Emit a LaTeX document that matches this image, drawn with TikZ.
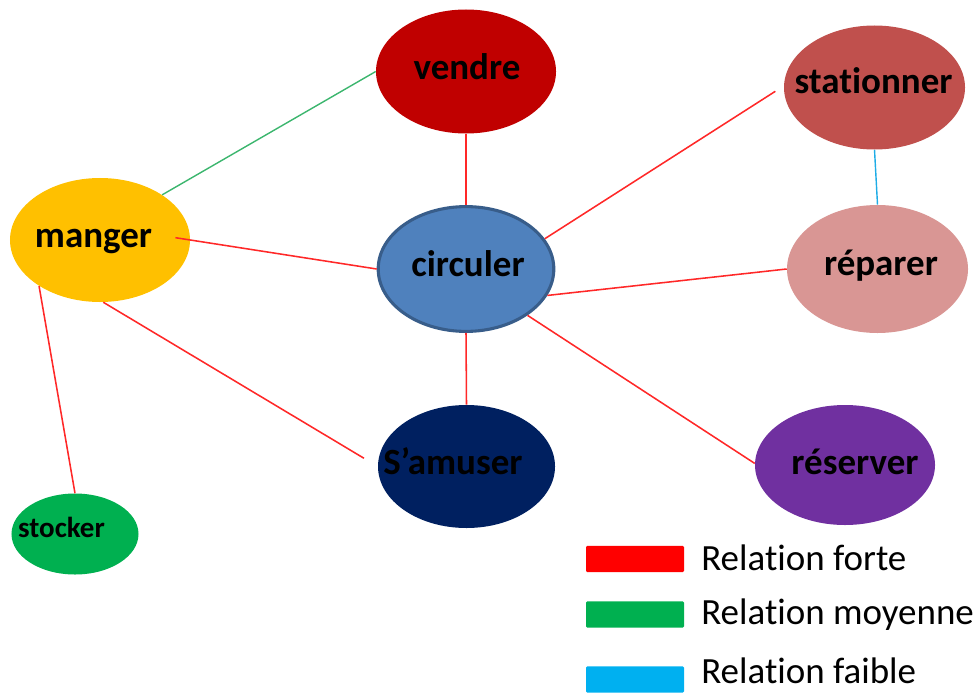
\documentclass[tikz,border=0pt]{standalone}
\usepackage{fontspec}
\setmainfont{Carlito}[Ligatures=NoCommon]
\usetikzlibrary{shapes.geometric}

\definecolor{rouge}{RGB}{255,40,40}
\definecolor{vert}{RGB}{60,182,110}
\definecolor{bleu}{RGB}{30,172,230}
\definecolor{cVendre}{HTML}{C00000}
\definecolor{cStation}{HTML}{C0504D}
\definecolor{cRepar}{HTML}{D99694}
\definecolor{cCircul}{HTML}{4F81BD}
\definecolor{cCirculBord}{HTML}{385D8A}
\definecolor{cManger}{HTML}{FFC000}
\definecolor{cAmuser}{HTML}{002060}
\definecolor{cReserv}{HTML}{7030A0}
\definecolor{cStock}{HTML}{00B050}
\definecolor{cFaible}{HTML}{00B0F0}

\begin{document}
\begin{tikzpicture}[x = 0.25mm, y = -0.25mm,
    bulle/.style = {ellipse, inner sep=0pt, minimum width=45mm, minimum height=31mm},
    mot/.style = {anchor=base, inner sep=0pt, font=\bfseries\fontsize{26.3}{30}\selectfont},
    forte/.style = {draw=rouge, line width=1.1pt},
    moyenne/.style = {draw=vert, line width=1pt},
    faible/.style = {draw=bleu, line width=1pt},
    cle/.style = {rounded corners=1pt, minimum width=24.5mm, minimum height=6.6mm, inner sep=0pt},
    legende/.style = {anchor=base west, inner sep=0pt, font=\fontsize{26.3}{30}\selectfont}]
    \useasboundingbox (0,0) rectangle (979,693);

    % les verbes
    \node[bulle, fill=cVendre] (vendre) at (466,71.5) {};
    \node[bulle, fill=cStation, minimum width=45.25mm] (stationner) at (874.5,87.5) {};
    \node[bulle, fill=cRepar, minimum width=45.25mm, minimum height=32mm] (reparer) at (877.5,269) {};
    \node[bulle, fill=cCircul, draw=cCirculBord, line width=2.2pt, minimum width=43.9mm, minimum height=31.2mm] (circuler) at (466,269) {};
    \node[bulle, fill=cManger] (manger) at (100,240) {};
    \node[bulle, fill=cAmuser, minimum width=44.25mm, minimum height=30.75mm] (amuser) at (466.5,466.5) {};
    \node[bulle, fill=cReserv, minimum height=30mm] (reserver) at (845,465) {};
    \node[bulle, fill=cStock, minimum width=31.75mm, minimum height=20.25mm] (stocker) at (75,534) {};

    \node[mot] (t-vendre) at (467,80) {vendre};
    \node[mot] (t-stationner) at (873.5,93.5) {stationner};
    \node[mot] (t-reparer) at (881,275) {réparer};
    \node[mot] (t-circuler) at (468,276) {circuler};
    \node[mot] (t-manger) at (93.5,247) {manger};
    \node[mot] (t-amuser) at (453,474) {S’amuser};
    \node[mot] (t-reserver) at (855,474) {réserver};
    \node[mot, font=\bfseries\fontsize{20.6}{24}\selectfont] (t-stocker) at (61.5,537) {stocker};

    % les relations
    \draw[moyenne] (manger.36) -- (vendre.west);
    \draw[forte] (vendre.south) -- (circuler.north);
    \draw[forte, shorten >=2.5mm] (circuler.21) -- (stationner.179);
    \draw[faible] (stationner.south) -- (reparer.north);
    \draw[forte] (circuler.-18) -- (reparer.west);
    \draw[forte] (circuler.-37) -- (reserver.179);
    \draw[forte] (circuler.south) -- (amuser.north);
    \draw[forte, shorten >=-3.75mm] (circuler.west) -- (manger.east);
    \draw[forte, shorten >=4mm] (manger.-87) -- (amuser.west);
    \draw[forte] (manger.-143) -- (stocker.north);

    % legende
    \node[cle, fill=red] (cle-forte) at (635,559) {};
    \node[cle, fill=cStock] (cle-moyenne) at (635,614.5) {};
    \node[cle, fill=cFaible] (cle-faible) at (635,679.5) {};
    \node[legende] (l-forte) at (701,570) {Relation forte};
    \node[legende] (l-moyenne) at (701,624) {Relation moyenne};
    \node[legende] (l-faible) at (701,683) {Relation faible};
\end{tikzpicture}
\end{document}
